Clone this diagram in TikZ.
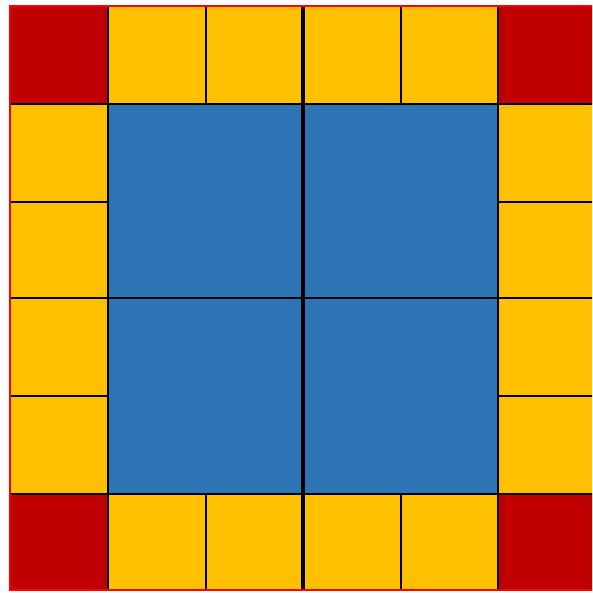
\documentclass[tikz,border=0pt]{standalone}
\definecolor{cred}{HTML}{C00000}
\definecolor{cyel}{HTML}{FFC000}
\definecolor{cblue}{HTML}{2E75B6}
\definecolor{bred}{HTML}{FF0000}
\begin{document}
\begin{tikzpicture}[x=1pt,y=-1pt,
  gridline/.style={black,line width=1.6pt},
  midline/.style={black,line width=3.2pt},
  frame/.style={bred,line width=2.2pt}]
\useasboundingbox (0,0) rectangle (592,593);
\clip (0,0) rectangle (592,593);
% fills
\fill[cyel] (10,6) rectangle (596,590);
\fill[cblue] (108,104) rectangle (498,494);
\fill[cred] (10,6) rectangle (108,104);
\fill[cred] (498,6) rectangle (596,104);
\fill[cred] (10,494) rectangle (108,590);
\fill[cred] (498,494) rectangle (596,590);
% vertical lines
\foreach \x in {108,206,401,498} {
  \draw[gridline] (\x,6) -- (\x,104);
  \draw[gridline] (\x,494) -- (\x,590);
}
\draw[gridline] (108,6) -- (108,590);
\draw[gridline] (498,6) -- (498,590);
% horizontal lines
\foreach \y in {202,396} {
  \draw[gridline] (10,\y) -- (108,\y);
  \draw[gridline] (498,\y) -- (596,\y);
}
\draw[gridline] (10,104) -- (596,104);
\draw[gridline] (10,494) -- (596,494);
\draw[gridline] (10,298) -- (596,298);
% thick middle vertical
\draw[midline] (303,6) -- (303,590);
% outer frame
\draw[frame] (10,6) rectangle (597,590);
\end{tikzpicture}
\end{document}
